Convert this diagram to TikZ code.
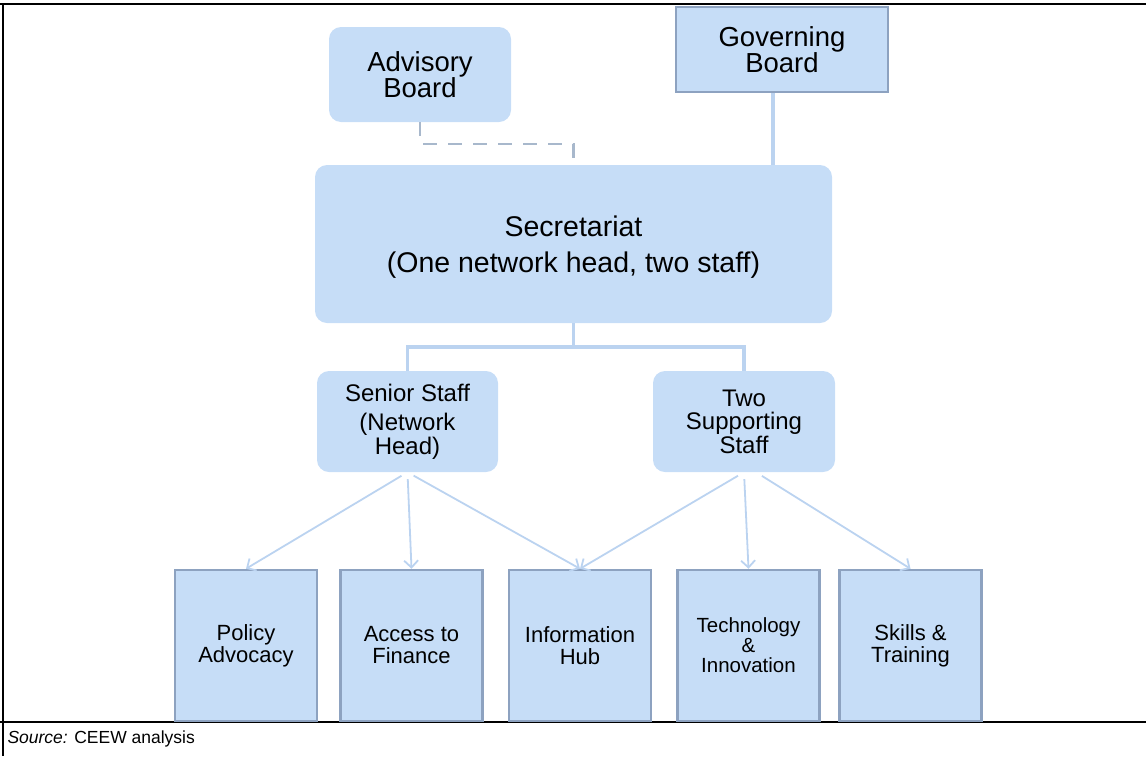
\documentclass[tikz,border=0pt]{standalone}
\usepackage{fontspec}
\setmainfont{Liberation Sans}
\usepackage{xcolor}
\usepackage{tikz}
\usetikzlibrary{arrows.meta}

\definecolor{boxblue}{HTML}{C6DDF7}
\definecolor{boxedge}{HTML}{8DA2C0}
\definecolor{linkblue}{HTML}{BBD3F0}
\definecolor{dashgray}{HTML}{A8B8CC}

\begin{document}
\begin{tikzpicture}[x=1pt, y=-1pt,
    rbox/.style={fill=boxblue, rounded corners=12pt, align=center, inner sep=0pt},
    sbox/.style={fill=boxblue, draw=boxedge, line width=2.5pt, align=center, inner sep=0pt},
    link/.style={draw=linkblue, line width=3.5pt},
    arr/.style={draw=linkblue, line width=1.8pt, -{Straight Barb[length=7pt,width=14pt]}, shorten <=7pt}]
            \useasboundingbox (0,0) rectangle (1146,756);
            % frame
            \draw[line width=2pt] (0,4) -- (1146,4);
            \draw[line width=2pt] (3,4) -- (3,756);
            \draw[line width=2pt] (0,722) -- (1146,722);
            \node[anchor=west, font=\fontsize{17.5}{19}\selectfont] (src) at (4,739) {\textit{Source:} CEEW analysis};
            % boards
            \node[rbox, minimum width=182pt, minimum height=95pt, font=\fontsize{27.5}{25}\selectfont] (adv) at (420,74.5) {Advisory\\Board};
            \node[sbox, minimum width=212pt, minimum height=85pt, font=\fontsize{27.5}{26}\selectfont] (gov) at (782,49.5) {Governing\\Board};
            \node[rbox, minimum width=517pt, minimum height=158pt, font=\fontsize{28.5}{36}\selectfont] (sec) at (573.5,244) {\rule{0pt}{26pt}Secretariat\\(One network head, two staff)};
            % staff
            \node[rbox, minimum width=181pt, minimum height=101pt, font=\fontsize{24}{23.5}\selectfont] (senior) at (407.5,421.5) {Senior Staff\\[6pt](Network\\Head)};
            \node[rbox, minimum width=182pt, minimum height=101pt, font=\fontsize{24}{23.5}\selectfont] (two) at (744,421.5) {Two\\Supporting\\Staff};
            % functions
            \node[sbox, minimum width=142pt, minimum height=151pt, font=\fontsize{22}{22}\selectfont] (policy) at (246,645.5) {Policy\\Advocacy};
            \node[sbox, minimum width=142pt, minimum height=151pt, font=\fontsize{22}{22}\selectfont] (finance) at (411.5,645.5) {Access to\\Finance};
            \node[sbox, minimum width=142pt, minimum height=151pt, font=\fontsize{22}{22}\selectfont] (hub) at (580,645.5) {Information\\Hub};
            \node[sbox, minimum width=142pt, minimum height=151pt, font=\fontsize{20.5}{20}\selectfont] (tech) at (748.5,645.5) {Technology\\\&\\Innovation};
            \node[sbox, minimum width=142pt, minimum height=151pt, font=\fontsize{22}{22}\selectfont] (skills) at (910.5,645.5) {Skills \&\\Training};
            % connectors
            \draw[draw=dashgray, line width=2.5pt, dash pattern=on 14pt off 11pt] (adv.south) -- ++(0,22) -| (sec.north);
            \draw[link] ([xshift=-9pt]gov.south) -- ([xshift=-9pt]gov.south |- sec.north);
            \draw[link] (sec.south) -- ++(0,24) coordinate (split);
            \draw[link] (senior.north) |- (split) -| (two.north);
            \draw[arr] (senior.south) -- (policy.north);
            \draw[arr] (senior.south) -- (finance.north);
            \draw[arr] (senior.south) -- (hub.north);
            \draw[arr] (two.south) -- (hub.north);
            \draw[arr] (two.south) -- (tech.north);
            \draw[arr] ([xshift=12pt]two.south) -- (skills.north);
        \end{tikzpicture}
\end{document}
